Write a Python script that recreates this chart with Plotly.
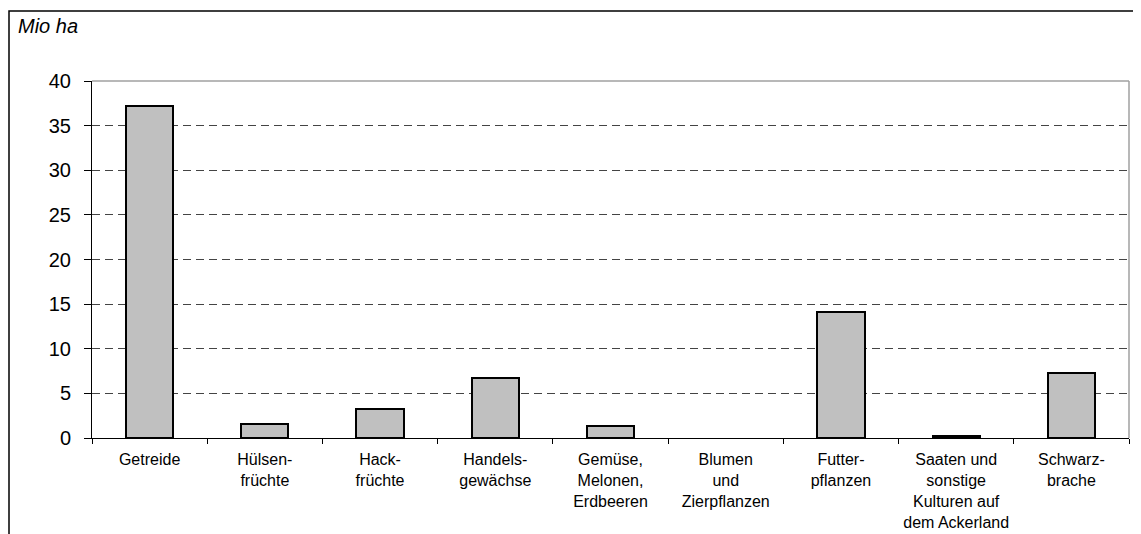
import plotly.graph_objects as go

# Anbauflächen nach Kulturart (Mio ha)
kulturen = [
    'Getreide',
    'Hülsen-<br>früchte',
    'Hack-<br>früchte',
    'Handels-<br>gewächse',
    'Gemüse,<br>Melonen,<br>Erdbeeren',
    'Blumen<br>und<br>Zierpflanzen',
    'Futter-<br>pflanzen',
    'Saaten und<br>sonstige<br>Kulturen auf<br>dem Ackerland',
    'Schwarz-<br>brache',
]
flaeche = [37.2, 1.6, 3.3, 6.7, 1.4, 0, 14.1, 0.2, 7.3]

# die Seite hat 8px Body-Rand, daher etwas kleiner
W, H = 1133, 526
ml, mr, mt, mb = 84, 12, 73, 96

# kein Umriss bei Balken mit Wert 0
umriss = [2 if v > 0 else 0 for v in flaeche]

fig = go.Figure(go.Bar(
    x=kulturen,
    y=flaeche,
    width=0.41,
    marker=dict(color='#c0c0c0', line=dict(color='black', width=umriss)),
))

fig.update_layout(
    width=W, height=H,
    margin=dict(l=ml, r=mr, t=mt, b=mb, autoexpand=False),
    paper_bgcolor='white', plot_bgcolor='white',
    font=dict(family='Liberation Sans, Arial, sans-serif', color='black'),
    showlegend=False,
    bargap=0,
)

fig.update_yaxes(
    range=[0, 40], dtick=5,
    showgrid=True, gridcolor='#444', griddash='8px,5px', gridwidth=1,
    showline=True, linecolor='black', linewidth=1,
    ticks='outside', ticklen=7, tickcolor='black',
    tickfont=dict(size=20), ticklabelstandoff=9,
    zeroline=False,
    fixedrange=True,
)
fig.update_xaxes(
    showline=True, linecolor='black', linewidth=1,
    ticks='outside', ticklen=5, tickcolor='black', tickson='boundaries',
    tickfont=dict(size=16), ticklabelstandoff=7,
    showgrid=False, automargin=False,
)

# grauer Rahmen oben/rechts um die Zeichenfläche
fig.add_shape(type='line', xref='paper', yref='paper', x0=0, x1=1, y0=1, y1=1,
              line=dict(color='#a0a0a0', width=1.5))
fig.add_shape(type='line', xref='paper', yref='paper', x0=1, x1=1, y0=0, y1=1,
              line=dict(color='#a0a0a0', width=1.5))

# äußerer Rahmen (rechts und unten abgeschnitten)
pw, ph = W - ml - mr, H - mt - mb
fx0 = (1 - ml) / pw
fy1 = 1 + (mt - 3) / ph
fx1 = (W + 20 - ml) / pw
fy0 = -(mb + 20) / ph
fig.add_shape(type='rect', xref='paper', yref='paper',
              x0=fx0, x1=fx1, y0=fy0, y1=fy1,
              line=dict(color='black', width=1.5), layer='below')

fig.add_annotation(text='<i>Mio ha</i>', xref='paper', yref='paper',
                   x=(8 - ml) / pw, y=1 + (mt - 5) / ph,
                   xanchor='left', yanchor='top', showarrow=False,
                   font=dict(size=20))

fig.write_html('out.html')
